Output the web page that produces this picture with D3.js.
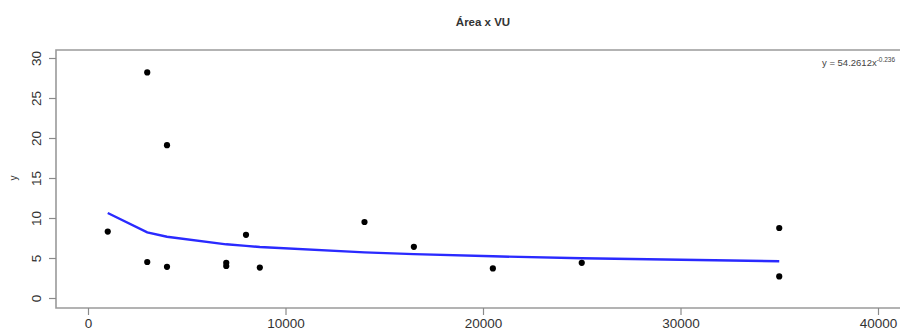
<!DOCTYPE html>
<html>
<head>
<meta charset="utf-8">
<script src="https://cdn.jsdelivr.net/npm/d3@7"></script>
<style>
	body { margin: 0; background: #fff; }
	svg { display: block; font-family: "Liberation Sans", Arial, sans-serif; }
</style>
</head>
<body>
<svg width="900" height="332"></svg>
<script>

// points
var areaX = [1000, 3000, 3000, 4000, 4000, 7000, 7000, 8000, 8700, 14000, 16500, 20500, 25000, 35000, 35000];
var vuY   = [8.3, 28.2, 4.5, 19.1, 3.9, 4.4, 4.0, 7.9, 3.8, 9.5, 6.4, 3.7, 4.4, 8.75, 2.7];

// fitted curve as drawn (one vertex per distinct x)
var fitX = [1000, 3000, 4000, 7000, 8000, 8700, 14000, 16500, 20500, 25000, 35000];
var fitY = [10.63, 8.20, 7.66, 6.71, 6.51, 6.38, 5.70, 5.49, 5.21, 4.97, 4.59];

var xTicks = [0, 10000, 20000, 30000, 40000];
var yTicks = [0, 5, 10, 15, 20, 25, 30];

var titleText = "Área x VU";
var eqMain = "y = 54.2612x";
var eqExp = "-0.236";

function drawChart(){
	var svg = d3.select("svg");

	var x = d3.scaleLinear()
		.domain([0, 40000])
		.range([88, 878]);

	var y = d3.scaleLinear()
		.domain([0, 30])
		.range([298, 58]);

	// plot box (left, top, bottom; right side runs off the picture)
	svg.append("path")
		.attr("d", "M 900 50 H 56 V 308 H 900")
		.attr("fill", "none")
		.attr("stroke", "#9a9a9a")
		.attr("stroke-width", 1.6);

	var xAxis = svg.append("g")
		.attr("transform", "translate(0,308)")
		.call(d3.axisBottom(x).tickValues(xTicks).tickSize(7).tickPadding(3).tickFormat(d3.format("d")));
	xAxis.select(".domain").remove();

	var yAxis = svg.append("g")
		.attr("transform", "translate(56,0)")
		.call(d3.axisLeft(y).tickValues(yTicks).tickSize(7).tickFormat(d3.format("d")));
	yAxis.select(".domain").remove();

	svg.selectAll(".tick line")
		.attr("stroke", "#8a8a8a")
		.attr("stroke-width", 1.2);

	xAxis.selectAll("text")
		.attr("fill", "#333")
		.attr("font-size", 13.5);

	// R style: y labels parallel to the axis
	yAxis.selectAll("text")
		.attr("fill", "#333")
		.attr("font-size", 13.5)
		.attr("text-anchor", "middle")
		.attr("x", 0)
		.attr("dy", 0)
		.attr("transform", "translate(-15,0) rotate(-90)");

	svg.append("text")
		.attr("transform", "translate(17,178) rotate(-90)")
		.attr("text-anchor", "middle")
		.attr("font-size", 10)
		.attr("fill", "#333")
		.text("y");

	svg.append("text")
		.attr("x", 483)
		.attr("y", 26)
		.attr("text-anchor", "middle")
		.attr("font-size", 11.5)
		.attr("font-weight", "bold")
		.attr("fill", "#333")
		.text(titleText);

	var eq = svg.append("text")
		.attr("x", 822)
		.attr("y", 66)
		.attr("font-size", 9.5)
		.attr("fill", "#444");
	eq.append("tspan").text(eqMain);
	eq.append("tspan")
		.attr("dy", -4.5)
		.attr("font-size", 6.5)
		.text(eqExp);

	var fit = fitX.map(function(d, i){
		return {x: d, y: fitY[i]};
	});

	var line = d3.line()
		.x(function(d) { return x(d.x); })
		.y(function(d) { return y(d.y); });

	svg.append("path")
		.datum(fit)
		.attr("fill", "none")
		.attr("stroke", "#2a2aff")
		.attr("stroke-width", 2.4)
		.attr("d", line);

	var pts = areaX.map(function(d, i){
		return {x: d, y: vuY[i]};
	});

	svg.selectAll("circle.pt")
		.data(pts)
		.enter()
		.append("circle")
		.attr("class", "pt")
		.attr("cx", function(d) { return x(d.x); })
		.attr("cy", function(d) { return y(d.y); })
		.attr("r", 3.1)
		.attr("fill", "#000");
}

drawChart();
</script>
</body>
</html>
